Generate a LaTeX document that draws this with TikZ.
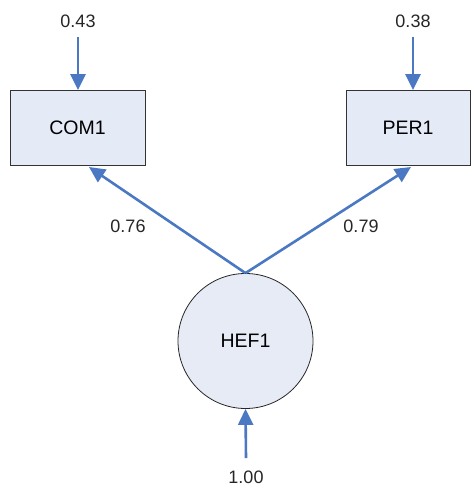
\documentclass[tikz,border=0pt]{standalone}
\usepackage{fontspec}
\setmainfont{Liberation Sans}
\usetikzlibrary{arrows.meta}
\definecolor{pathblue}{HTML}{4A78C2}
\definecolor{boxfill}{HTML}{E4EBF7}
\definecolor{ringfill}{HTML}{E6EBF5}
\tikzset{
  obsbox/.style={draw=black!80, line width=0.8pt, fill=boxfill, minimum width=135pt, minimum height=75pt, inner sep=0pt, font=\fontsize{19.5}{22}\selectfont},
  latent/.style={circle, draw=black!85, line width=0.8pt, fill=ringfill, minimum size=135pt, inner sep=0pt, font=\fontsize{19.5}{22}\selectfont},
  coef/.style={font=\fontsize{18}{20}\selectfont, text=black!85, inner sep=0pt},
  path/.style={draw=pathblue, line width=2.6pt, -{Triangle[length=16pt,width=15pt]}},
}
\begin{document}
\begin{tikzpicture}[x=1pt,y=-1pt]
  \useasboundingbox (0,0) rectangle (471,487);
  % observed indicators
  \node[obsbox] (com) at (77.5,128) {COM1};
  \node[obsbox, minimum width=124pt] (per) at (408,128) {PER1};
  % latent factor
  \node[latent] (hef) at (245.5,341) {HEF1};
  % error terms
  \node[coef] (ecom) at (78,21) {0.43};
  \node[coef] (eper) at (413,21) {0.38};
  \node[coef] (ehef) at (246,477) {1.00};
  \coordinate (ecomtail) at (78,37);
  \coordinate (epertail) at (413,37);
  \coordinate (ehef tail) at (246,458);
  \draw[path] (ecomtail) -- (com.north -| ecomtail);
  \draw[path] (epertail) -- (per.north -| epertail);
  \draw[path] (ehef tail) -- (hef.south);
  % loadings
  \coordinate (comtip) at (89,167);
  \coordinate (pertip) at (411,167);
  \draw[path] (hef.north) -- (comtip);
  \draw[path] (hef.north) -- (pertip);
  \node[coef] (lcom) at (128,226) {0.76};
  \node[coef] (lper) at (361,226) {0.79};
\end{tikzpicture}
\end{document}
